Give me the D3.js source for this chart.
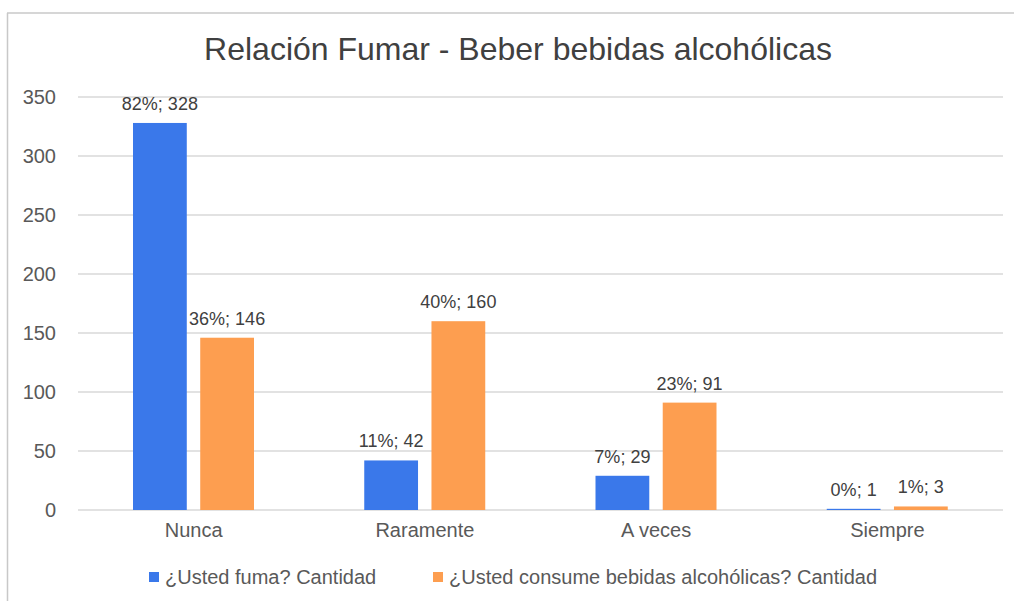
<!DOCTYPE html>
<html>
<head>
<meta charset="utf-8">
<script src="https://cdn.jsdelivr.net/npm/d3@7"></script>
<style>
  body { margin: 0; background: #fff; }
  text { font-family: "Liberation Sans", Arial, sans-serif; }
</style>
</head>
<body>
<div id="chart"></div>
<script>
// Data
var categories = ["Nunca", "Raramente", "A veces", "Siempre"];
var seriesNames = ["¿Usted fuma? Cantidad", "¿Usted consume bebidas alcohólicas? Cantidad"];
var fumaValues = [328, 42, 29, 1];
var fumaPct = ["82%", "11%", "7%", "0%"];
var beberValues = [146, 160, 91, 3];
var beberPct = ["36%", "40%", "23%", "1%"];
var yTicks = [0, 50, 100, 150, 200, 250, 300, 350];
var colors = ["#3a78ea", "#fd9e50"];

var svgWidth = 1014;
var svgHeight = 601;
var margin = { top: 97, right: 11, bottom: 91, left: 78 };
var width = svgWidth - margin.left - margin.right;
var height = svgHeight - margin.top - margin.bottom;

var svg = d3.select("#chart")
    .append("svg")
    .attr("width", svgWidth)
    .attr("height", svgHeight);

// outer frame (top and left edges visible)
svg.append("line").attr("x1", 7).attr("x2", svgWidth).attr("y1", 13).attr("y2", 13)
    .attr("stroke", "#c8c8c8").attr("stroke-width", 1.5);
svg.append("line").attr("x1", 7.5).attr("x2", 7.5).attr("y1", 13).attr("y2", svgHeight)
    .attr("stroke", "#c8c8c8").attr("stroke-width", 1.5);

svg.append("text")
    .attr("x", 518)
    .attr("y", 60)
    .attr("text-anchor", "middle")
    .attr("font-size", 32)
    .attr("fill", "#404040")
    .text("Relación Fumar - Beber bebidas alcohólicas");

var chartGroup = svg.append("g")
    .attr("transform", `translate(${margin.left}, ${margin.top})`);

var x0 = d3.scaleBand().domain(categories).range([0, width]);
var x1 = d3.scaleBand().domain([0, 1]).range([55, 176]).paddingInner(0.2);
var y = d3.scaleLinear().domain([0, 350]).range([height, 0]);

// gridlines
chartGroup.append("g")
    .selectAll("line")
    .data(yTicks)
    .enter()
    .append("line")
    .attr("x1", 0)
    .attr("x2", width)
    .attr("y1", d => y(d))
    .attr("y2", d => y(d))
    .attr("stroke", "#d9d9d9")
    .attr("stroke-width", 1.5);

// y axis labels
var leftAxis = d3.axisLeft(y).tickValues(yTicks).tickSize(0).tickPadding(22);
chartGroup.append("g")
    .call(leftAxis)
    .call(g => g.select(".domain").remove())
    .selectAll("text")
    .attr("font-size", 20)
    .attr("fill", "#595959")
    .attr("font-family", "Liberation Sans, Arial, sans-serif");

// x axis labels
var bottomAxis = d3.axisBottom(x0).tickSize(0).tickPadding(13);
chartGroup.append("g")
    .attr("transform", `translate(0, ${height})`)
    .call(bottomAxis)
    .call(g => g.select(".domain").remove())
    .selectAll("text")
    .attr("font-size", 20)
    .attr("fill", "#595959")
    .attr("font-family", "Liberation Sans, Arial, sans-serif");

var rows = categories.map(function (c, i) {
    return [
        { cat: c, s: 0, v: fumaValues[i], p: fumaPct[i] },
        { cat: c, s: 1, v: beberValues[i], p: beberPct[i] }
    ];
});

var groups = chartGroup.append("g")
    .selectAll("g")
    .data(rows)
    .enter()
    .append("g")
    .attr("transform", d => `translate(${x0(d[0].cat)}, 0)`);

groups.selectAll("rect")
    .data(d => d)
    .enter()
    .append("rect")
    .attr("x", d => x1(d.s))
    .attr("y", d => y(d.v))
    .attr("width", x1.bandwidth())
    .attr("height", d => height - y(d.v))
    .attr("fill", d => colors[d.s]);

groups.selectAll("text")
    .data(d => d)
    .enter()
    .append("text")
    .attr("x", d => x1(d.s) + x1.bandwidth() / 2)
    .attr("y", d => y(d.v) - 13)
    .attr("text-anchor", "middle")
    .attr("font-size", 18)
    .attr("fill", "#404040")
    .text(d => `${d.p}; ${d.v}`);

// legend
var legendX = [149, 433];
var legend = svg.append("g")
    .selectAll("g")
    .data(seriesNames)
    .enter()
    .append("g")
    .attr("transform", (d, i) => `translate(${legendX[i]}, 577)`);

legend.append("rect")
    .attr("x", 0)
    .attr("y", -5)
    .attr("width", 10)
    .attr("height", 10)
    .attr("fill", (d, i) => colors[i]);

legend.append("text")
    .attr("x", 16)
    .attr("y", 7)
    .attr("font-size", 20)
    .attr("fill", "#595959")
    .text(d => d);
</script>
</body>
</html>
